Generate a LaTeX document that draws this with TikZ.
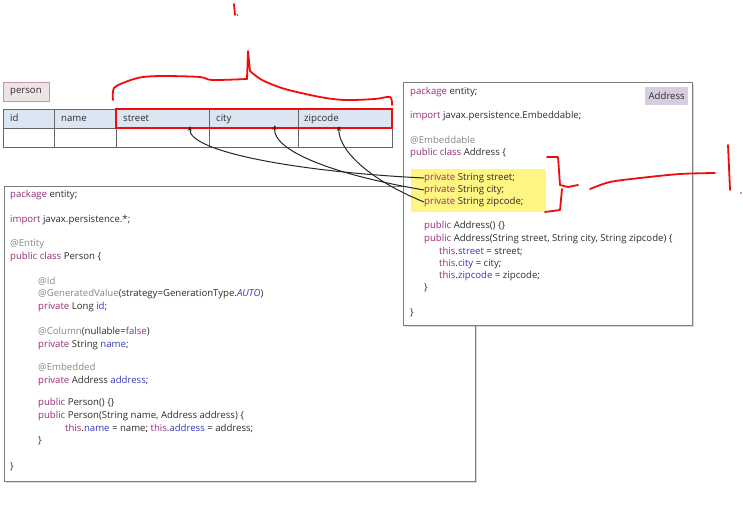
\documentclass[tikz,border=0pt]{standalone}
\usepackage{fontspec}
\setmainfont{Open Sans}
\usetikzlibrary{shadows,arrows.meta}

\definecolor{kwc}{RGB}{150,45,120}
\definecolor{anc}{RGB}{135,135,135}
\definecolor{fdc}{RGB}{55,55,195}
\definecolor{txc}{RGB}{45,45,45}
\definecolor{hdrfill}{RGB}{220,230,242}
\definecolor{tagfill}{RGB}{215,205,225}
\definecolor{lblfill}{RGB}{236,228,230}
\definecolor{lbldraw}{RGB}{200,150,155}
\definecolor{hilite}{RGB}{255,245,130}
\definecolor{inkred}{RGB}{240,12,12}
\definecolor{panelgray}{RGB}{125,125,125}

\newcommand\jkw[1]{\textcolor{kwc}{#1}}
\newcommand\jan[1]{\textcolor{anc}{#1}}
\newcommand\jfd[1]{\textcolor{fdc}{#1}}

\tikzset{
  code/.style={anchor=west, inner sep=0pt, text height=7pt, text depth=2.6pt,
    font=\fontsize{9.6}{11}\selectfont, text=txc},
  panel/.style={draw=panelgray, line width=1.1pt, fill=white, anchor=north west,
    drop shadow={shadow xshift=1.3pt, shadow yshift=-1.3pt, opacity=0.3}},
  cellline/.style={draw=black!60, line width=0.8pt},
  redmark/.style={draw=inkred, line width=1.8pt, line cap=round, line join=round},
  link/.style={-{Stealth[length=5pt,width=4pt]}, line width=1pt, draw=black!85},
}

\begin{document}
\begin{tikzpicture}[x=1pt,y=-1pt]
\useasboundingbox (0,0) rectangle (743,516);

% ---- table "person" ----
\node[draw=lbldraw, fill=lblfill, line width=0.9pt, anchor=north west,
      minimum width=46pt, minimum height=19pt, inner sep=0pt] (plabel) at (3,82) {};
\node[code] (plabeltext) at (10,91) {person};

\fill[hdrfill] (3,109) rectangle (392,128);
\draw[cellline] (3,109) rectangle (392,147);
\draw[cellline] (3,128) -- (392,128);
\foreach \cx in {54,116,209,298} \draw[cellline] (\cx,109) -- (\cx,147);

\node[code] (hid)     at (10,119)  {id};
\node[code] (hname)   at (61,119)  {name};
\node[code] (hstreet) at (123,119) {street};
\node[code] (hcity)   at (216,119) {city};
\node[code] (hzip)    at (304,119) {zipcode};

\draw[draw=inkred, line width=1.8pt] (116,109) rectangle (392,128);

\coordinate (tstreet) at (190,126);
\coordinate (tcity)   at (275,125);
\coordinate (tzip)    at (339,126);

% ---- class Person ----
\node[panel, minimum width=471pt, minimum height=295pt] (personbox) at (4,186) {};
\node[code] (p1)  at (10,195)  {\jkw{package} entity;};
\node[code] (p2)  at (10,220)  {\jkw{import} javax.persistence.*;};
\node[code] (p3)  at (10,244)  {\jan{@Entity}};
\node[code] (p4)  at (10,257)  {\jkw{public class} Person \{};
\node[code] (p5)  at (38,282)  {\jan{@Id}};
\node[code] (p6)  at (38,294)  {\jan{@GeneratedValue}(strategy=GenerationType.\jfd{\itshape AUTO})};
\node[code] (p7)  at (38,307)  {\jkw{private} Long \jfd{id};};
\node[code] (p8)  at (38,332)  {\jan{@Column}(nullable=\jkw{false})};
\node[code] (p9)  at (38,345)  {\jkw{private} String \jfd{name};};
\node[code] (p10) at (38,368)  {\jan{@Embedded}};
\node[code] (p11) at (38,381)  {\jkw{private} Address \jfd{address};};
\node[code] (p12) at (38,403)  {\jkw{public} Person() \{\}};
\node[code] (p13) at (38,416)  {\jkw{public} Person(String name, Address address) \{};
\node[code] (p14) at (65,429)  {\jkw{this}.\jfd{name} = name; \jkw{this}.\jfd{address} = address;};
\node[code] (p15) at (38,441)  {\}};
\node[code] (p16) at (10,467)  {\}};

% ---- class Address ----
\node[panel, minimum width=289pt, minimum height=243pt] (addrbox) at (403,82) {};
\node[fill=tagfill, anchor=north west, minimum width=43pt, minimum height=18pt,
      inner sep=0pt, font=\fontsize{9.6}{11}\selectfont, text=txc] (addrtag) at (645,87) {Address};
\fill[hilite] (411,169) rectangle (546,212);
\node[code] (a1)  at (410,92)  {\jkw{package} entity;};
\node[code] (a2)  at (410,116) {\jkw{import} javax.persistence.Embeddable;};
\node[code] (a3)  at (410,141) {\jan{@Embeddable}};
\node[code] (a4)  at (410,153) {\jkw{public class} Address \{};
\node[code] (astreet) at (424,178) {\jkw{private} String street;};
\node[code] (acity)   at (424,190) {\jkw{private} String city;};
\node[code] (azip)    at (424,202) {\jkw{private} String zipcode;};
\node[code] (a8)  at (424,226) {\jkw{public} Address() \{\}};
\node[code] (a9)  at (424,239) {\jkw{public} Address(String street, String city, String zipcode) \{};
\node[code] (a10) at (439,252) {\jkw{this}.\jfd{street} = street;};
\node[code] (a11) at (439,264) {\jkw{this}.\jfd{city} = city;};
\node[code] (a12) at (439,276) {\jkw{this}.\jfd{zipcode} = zipcode;};
\node[code] (a13) at (424,288) {\}};
\node[code] (a14) at (410,313) {\}};

% ---- field-to-column links ----
\draw[link] (astreet.west) .. controls (300,172) and (188,152) .. (tstreet);
\draw[link] (acity.west)   .. controls (330,174) and (272,150) .. (tcity);
\draw[link] (azip.west)    .. controls (365,178) and (338,148) .. (tzip);

% ---- red pen marks ----
\draw[redmark] (234,4) -- (235,15);
\fill[inkred] (237.5,15) circle (0.9pt);
\draw[redmark] plot[smooth, tension=0.5] coordinates
  {(113,100) (114,88) (128,81) (143,77) (165,76) (200,77) (212,80) (247,79)};
\draw[redmark] (247,79) -- (248,51) -- (250,71);
\draw[redmark] plot[smooth, tension=0.5] coordinates
  {(250,71) (262,80) (285,89) (320,97) (345,100) (375,99) (390,97) (392,105)};
\draw[redmark] (547,157) -- (558,157) -- (560,185) -- (568,187) -- (578,185);
\draw[redmark] (562,189) -- (560,210) -- (545,212);
\draw[redmark] plot[smooth, tension=0.5] coordinates
  {(590,189) (610,182) (640,178) (680,174) (715,173)};
\draw[redmark] (728,145) -- (730,190);
\fill[inkred] (741,193) circle (0.9pt);
\end{tikzpicture}
\end{document}
